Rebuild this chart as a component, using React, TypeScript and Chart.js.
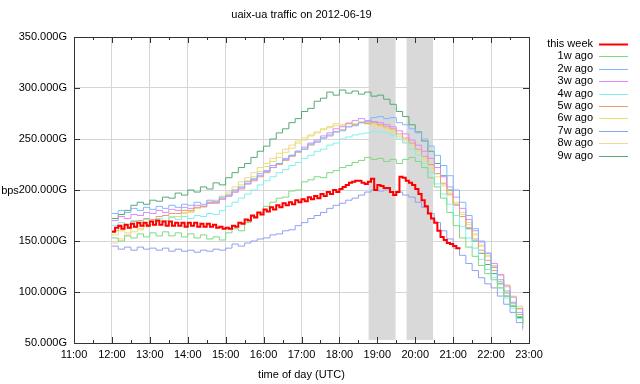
import { useEffect, useRef } from 'react';
import { Chart, registerables } from 'chart.js';

Chart.register(...registerables);

const TITLE = 'uaix-ua traffic on 2012-06-19';
const X_TITLE = 'time of day (UTC)';
const Y_TITLE = 'bps';
const FONT = "'Liberation Sans', Arial, sans-serif";

const X_MIN = 11;
const X_MAX = 23;
const Y_MIN = 50;
const Y_MAX = 350;
const Y_STEP = 50;

// shaded periods (hours of day)
const SHADED: [number, number][] = [
  [18.77, 19.48],
  [19.77, 20.47],
];
const SHADE_BOTTOM = 53;

const START_HOUR = 12;
const STEP_THIS_WEEK = 5; // minutes
const STEP_OLDER = 10; // minutes

const SERIES_NAMES = ['this week', '1w ago', '2w ago', '3w ago', '4w ago', '5w ago', '6w ago', '7w ago', '8w ago', '9w ago'];
const SERIES_COLORS = ['#ff0000', '#80d880', '#80b8ff', '#dd88ff', '#80f0f0', '#e8a070', '#e6e070', '#90a0f0', '#f5d590', '#55aa77'];

// 12:00 .. 21:10, 5-minute samples (G)
const THIS_WEEK = [
  159, 163, 165, 162, 166, 163, 167, 164, 168, 165, 168, 165,
  169, 166, 170, 166, 169, 165, 169, 165, 168, 165, 168, 164,
  168, 165, 168, 164, 167, 164, 167, 164, 166, 163, 164, 162,
  163, 162, 165, 164, 168, 167, 171, 170, 175, 173, 178, 176,
  181, 179, 183, 181, 185, 183, 187, 185, 188, 186, 190, 188,
  191, 189, 193, 191, 194, 192, 196, 194, 198, 196, 200, 198,
  201, 203, 205, 207, 208, 209, 209, 207, 206, 208, 211, 200,
  205, 204, 202, 202, 198, 195, 198, 213, 212, 209, 207, 205,
  201, 196, 190, 184, 177, 172, 168, 160, 154, 151, 148, 147,
  145, 143, 142,
];

// 12:00 .. 22:50, 10-minute samples (G)
const W1 = [
  153, 150, 155, 153, 157, 154,
  158, 155, 159, 155, 158, 154,
  157, 153, 156, 152, 154, 151,
  158, 162, 160, 168, 174, 178,
  184, 188, 192, 193, 199, 200,
  208, 210, 213, 212, 217, 219,
  222, 224, 227, 229, 232, 230,
  231, 228, 230, 226, 230, 232,
  228, 222, 212, 203, 192, 178,
  165, 153, 144, 135, 126, 118,
  112, 104, 96, 87, 76, 69,
];
const W2 = [
  177, 180, 178, 182, 180, 183,
  181, 184, 182, 185, 183, 186,
  185, 188, 186, 190, 189, 193,
  195, 200, 203, 208, 211, 216,
  219, 224, 226, 231, 234, 238,
  240, 245, 247, 251, 253, 257,
  258, 262, 263, 266, 267, 271,
  272, 270, 271, 266, 264, 260,
  256, 250, 243, 234, 224, 214,
  200, 188, 175, 162, 150, 138,
  124, 112, 101, 90, 80, 70,
];
const W3 = [
  170, 174, 172, 176, 175, 178,
  177, 180, 178, 181, 180, 183,
  182, 185, 184, 188, 187, 191,
  194, 198, 202, 206, 210, 214,
  218, 222, 226, 230, 234, 238,
  242, 246, 249, 253, 256, 260,
  262, 265, 268, 270, 268, 267,
  266, 264, 262, 258, 255, 249,
  244, 238, 231, 222, 213, 203,
  193, 182, 171, 160, 149, 138,
  128, 117, 106, 95, 84, 72,
];
const W4 = [
  165, 168, 166, 170, 168, 171,
  169, 172, 170, 173, 171, 174,
  172, 175, 174, 177, 176, 180,
  184, 188, 192, 196, 200, 205,
  209, 213, 217, 220, 224, 227,
  231, 234, 238, 240, 244, 246,
  250, 252, 254, 255, 256, 257,
  257, 256, 254, 250, 246, 240,
  234, 226, 217, 206, 196, 186,
  175, 164, 153, 143, 132, 122,
  114, 104, 94, 84, 74, 67,
];
const W5 = [
  160, 164, 166, 169, 170, 172,
  171, 174, 175, 177, 177, 180,
  180, 183, 184, 187, 188, 191,
  194, 198, 201, 206, 209, 213,
  217, 222, 225, 229, 233, 237,
  240, 244, 247, 251, 254, 257,
  259, 262, 264, 266, 265, 266,
  264, 262, 260, 255, 251, 246,
  240, 233, 225, 216, 206, 196,
  185, 174, 163, 152, 141, 131,
  121, 110, 99, 89, 78, 69,
];
const W6 = [
  156, 160, 158, 163, 162, 166,
  166, 170, 170, 174, 174, 178,
  179, 182, 183, 187, 188, 192,
  196, 200, 205, 209, 213, 218,
  223, 228, 232, 237, 241, 246,
  249, 253, 256, 260, 262, 265,
  264, 266, 265, 267, 266, 264,
  263, 260, 258, 253, 249, 244,
  238, 231, 224, 216, 207, 198,
  188, 178, 168, 157, 146, 136,
  126, 117, 107, 96, 86, 74,
];
const W7 = [
  145, 142, 144, 141, 144, 142,
  143, 141, 143, 140, 142, 140,
  141, 139, 141, 140, 142, 141,
  143, 147, 145, 148, 150, 152,
  153, 156, 157, 160, 161, 165,
  168, 172, 175, 178, 182, 185,
  187, 190, 192, 195, 198, 200,
  199, 200, 198, 198, 195, 193,
  188, 183, 177, 168, 160, 152,
  143, 136, 128, 121, 114, 108,
  104, 96, 88, 80, 70, 64,
];
const W8 = [
  148, 152, 156, 159, 161, 164,
  166, 169, 170, 173, 174, 177,
  178, 182, 184, 188, 190, 194,
  198, 203, 208, 212, 217, 222,
  226, 231, 236, 240, 244, 248,
  251, 254, 257, 259, 261, 263,
  263, 265, 264, 266, 265, 263,
  262, 259, 256, 252, 247, 241,
  235, 229, 221, 213, 204, 195,
  186, 176, 166, 156, 145, 135,
  125, 116, 105, 95, 83, 62,
];
const W9 = [
  172, 176, 180, 185, 188, 186,
  190, 189, 193, 192, 197, 195,
  200, 198, 203, 201, 207, 205,
  212, 217, 222, 226, 232, 238,
  243, 250, 256, 260, 266, 270,
  277, 280, 287, 290, 296, 293,
  298, 295, 297, 294, 296, 292,
  293, 289, 284, 277, 272, 264,
  257, 248, 238, 226, 214, 200,
  186, 174, 162, 150, 138, 127,
  118, 108, 96, 86, 75, 68,
];

const SERIES_VALUES = [THIS_WEEK, W1, W2, W3, W4, W5, W6, W7, W8, W9];

function toPoints(values: number[], stepMin: number) {
  return values.map((v, i) => ({ x: START_HOUR + (i * stepMin) / 60, y: v }));
}

const decorPlugin = {
  id: 'decor',
  beforeDatasetsDraw(chart: any) {
    const { ctx, scales } = chart;
    const x = scales.x;
    const y = scales.y;
    ctx.save();
    ctx.fillStyle = '#d9d9d9';
    for (const [s, e] of SHADED) {
      const x0 = x.getPixelForValue(s);
      const x1 = x.getPixelForValue(e);
      const y0 = y.getPixelForValue(Y_MAX);
      const y1 = y.getPixelForValue(SHADE_BOTTOM);
      ctx.fillRect(x0, y0, x1 - x0, y1 - y0);
    }
    ctx.restore();
  },
  afterDraw(chart: any) {
    const { ctx, chartArea: a, scales } = chart;
    const x = scales.x;
    const y = scales.y;
    ctx.save();
    // frame
    ctx.strokeStyle = '#333333';
    ctx.lineWidth = 1;
    ctx.strokeRect(Math.round(a.left) + 0.5, Math.round(a.top) + 0.5, Math.round(a.right - a.left), Math.round(a.bottom - a.top));
    // ticks
    ctx.beginPath();
    for (let h = X_MIN; h <= X_MAX; h += 0.5) {
      const px = Math.round(x.getPixelForValue(h)) + 0.5;
      const len = Number.isInteger(h) ? 6 : 3;
      ctx.moveTo(px, a.bottom);
      ctx.lineTo(px, a.bottom - len);
      ctx.moveTo(px, a.top);
      ctx.lineTo(px, a.top + len);
    }
    for (let v = Y_MIN; v <= Y_MAX; v += Y_STEP) {
      const py = Math.round(y.getPixelForValue(v)) + 0.5;
      ctx.moveTo(a.left, py);
      ctx.lineTo(a.left + 6, py);
      ctx.moveTo(a.right, py);
      ctx.lineTo(a.right - 6, py);
    }
    ctx.stroke();

    // texts
    ctx.fillStyle = '#000000';
    ctx.font = `11px ${FONT}`;
    ctx.textAlign = 'center';
    ctx.textBaseline = 'middle';
    const cx = (a.left + a.right) / 2;
    ctx.fillText(TITLE, cx, 15);
    ctx.fillText(X_TITLE, cx, 375);
    ctx.fillText(Y_TITLE, 10, 191);

    // legend
    const textRight = 593;
    const lineX0 = 599;
    const lineX1 = 628;
    SERIES_NAMES.forEach((name, i) => {
      const ly = 44 + i * 12.4;
      ctx.textAlign = 'right';
      ctx.fillStyle = '#000000';
      ctx.fillText(name, textRight, ly);
      ctx.strokeStyle = SERIES_COLORS[i];
      ctx.lineWidth = i === 0 ? 2 : 1;
      ctx.beginPath();
      ctx.moveTo(lineX0, Math.round(ly) + 0.5);
      ctx.lineTo(lineX1, Math.round(ly) + 0.5);
      ctx.stroke();
    });
    ctx.restore();
  },
};

export default function App() {
  const canvasRef = useRef<HTMLCanvasElement | null>(null);

  useEffect(() => {
    const canvas = canvasRef.current;
    if (!canvas) return;
    const datasets = SERIES_VALUES.map((vals, i) => ({
      label: SERIES_NAMES[i],
      data: toPoints(vals, i === 0 ? STEP_THIS_WEEK : STEP_OLDER),
      borderColor: SERIES_COLORS[i],
      backgroundColor: SERIES_COLORS[i],
      borderWidth: i === 0 ? 2 : 1,
      pointRadius: 0,
      stepped: 'before' as const,
      fill: false,
      tension: 0,
    }));
    const chart = new Chart(canvas, {
      type: 'line',
      data: { datasets },
      options: {
        animation: false,
        responsive: false,
        devicePixelRatio: 1,
        events: [],
        layout: { padding: { left: 0, right: 111, top: 37, bottom: 0 } },
        plugins: {
          legend: { display: false },
          title: { display: false },
          tooltip: { enabled: false },
        },
        scales: {
          x: {
            type: 'linear',
            min: X_MIN,
            max: X_MAX,
            afterFit: (s: any) => {
              s.height = 41;
            },
            ticks: {
              stepSize: 1,
              padding: 5,
              maxRotation: 0,
              autoSkip: false,
              color: '#000000',
              font: { family: FONT, size: 11 },
              callback: (v: any) => `${v}:00`,
            },
            grid: { color: '#d6d6d6', lineWidth: 1, drawTicks: false },
            border: { display: false },
          },
          y: {
            type: 'linear',
            min: Y_MIN,
            max: Y_MAX,
            afterFit: (s: any) => {
              s.width = 74;
            },
            ticks: {
              stepSize: Y_STEP,
              padding: 7,
              color: '#000000',
              font: { family: FONT, size: 11 },
              callback: (v: any) => `${Number(v).toFixed(3)}G`,
            },
            grid: { color: '#d6d6d6', lineWidth: 1, drawTicks: false },
            border: { display: false },
          },
        },
      },
      plugins: [decorPlugin],
    });
    return () => chart.destroy();
  }, []);

  return (
    <div style={{ position: 'fixed', left: 0, top: 0, width: 640, height: 384, background: '#ffffff' }}>
      <canvas ref={canvasRef} width={640} height={384} style={{ width: 640, height: 384, display: 'block' }} />
    </div>
  );
}
